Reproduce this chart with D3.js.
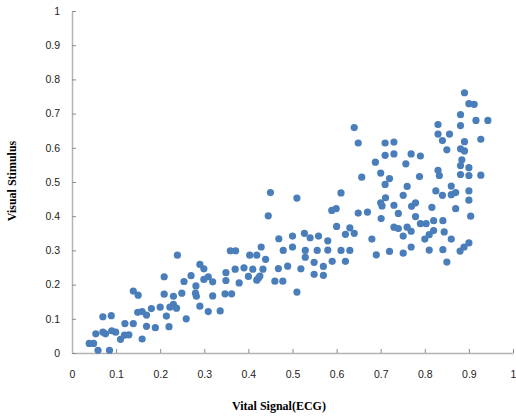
<!DOCTYPE html>
<html lang="en">
  <head>
    <meta charset="utf-8">
    <title>Vital Signal vs Visual Stimulus</title>
    <script src="https://d3js.org/d3.v7.min.js"></script>
    <style>
      body { margin: 0; background: #fff; }
    </style>
  </head>
  <body>
    <script>
      // points: ecg = x, stim = y
      var ecg = [0.039,0.049,0.059,0.085,0.054,0.070,0.089,0.070,0.076,0.090,0.099,0.110,0.119,0.129,0.120,0.139,0.159,0.139,0.150,0.149,
                 0.159,0.169,0.169,0.180,0.189,0.200,0.209,0.209,0.214,0.220,0.222,0.230,0.230,0.237,0.239,0.249,0.254,0.259,0.270,0.281,
                 0.280,0.282,0.290,0.290,0.299,0.299,0.309,0.319,0.319,0.309,0.336,0.445,0.347,0.362,0.349,0.349,0.359,0.371,0.370,0.379,
                 0.390,0.400,0.403,0.410,0.419,0.429,0.439,0.433,0.426,0.419,0.423,0.460,0.478,0.468,0.469,0.479,0.489,0.500,0.500,0.510,
                 0.519,0.527,0.540,0.529,0.529,0.549,0.549,0.559,0.556,0.570,0.570,0.580,0.580,0.590,0.600,0.610,0.620,0.620,0.630,0.640,
                 0.630,0.649,0.670,0.701,0.740,0.779,0.680,0.690,0.720,0.730,0.740,0.751,0.751,0.760,0.769,0.769,0.790,0.803,0.820,0.841,
                 0.820,0.844,0.810,0.800,0.810,0.841,0.860,0.850,0.880,0.889,0.900,0.904,0.640,0.649,0.450,0.510,0.610,0.589,0.599,0.657,
                 0.688,0.700,0.710,0.730,0.710,0.730,0.720,0.710,0.711,0.700,0.703,0.730,0.751,0.760,0.757,0.769,0.790,0.788,0.770,0.779,
                 0.816,0.825,0.840,0.830,0.830,0.840,0.856,0.850,0.830,0.833,0.860,0.860,0.870,0.870,0.881,0.881,0.890,0.900,0.912,0.916,
                 0.943,0.890,0.881,0.890,0.884,0.881,0.900,0.881,0.900,0.927,0.927,0.900,0.900]
      var stim = [0.028,0.028,0.008,0.008,0.056,0.106,0.109,0.061,0.056,0.065,0.061,0.040,0.052,0.053,0.086,0.086,0.041,0.181,0.169,0.119,
                  0.121,0.111,0.078,0.130,0.074,0.134,0.223,0.172,0.108,0.077,0.134,0.166,0.142,0.131,0.286,0.175,0.209,0.100,0.226,0.196,
                  0.175,0.166,0.137,0.259,0.246,0.215,0.223,0.208,0.167,0.121,0.123,0.401,0.173,0.173,0.235,0.212,0.299,0.299,0.245,0.205,
                  0.249,0.224,0.286,0.245,0.286,0.310,0.274,0.245,0.225,0.213,0.219,0.210,0.210,0.247,0.334,0.300,0.254,0.342,0.310,0.178,
                  0.246,0.350,0.337,0.300,0.280,0.265,0.230,0.342,0.300,0.253,0.227,0.328,0.301,0.268,0.370,0.300,0.268,0.347,0.366,0.350,
                  0.300,0.409,0.412,0.393,0.408,0.399,0.333,0.287,0.297,0.368,0.364,0.342,0.292,0.368,0.356,0.310,0.378,0.378,0.387,0.387,
                  0.358,0.354,0.346,0.333,0.301,0.302,0.333,0.266,0.298,0.310,0.322,0.400,0.659,0.614,0.469,0.453,0.468,0.417,0.422,0.514,
                  0.558,0.526,0.614,0.617,0.578,0.582,0.510,0.493,0.454,0.439,0.430,0.432,0.461,0.487,0.553,0.582,0.576,0.516,0.429,0.439,
                  0.426,0.474,0.461,0.668,0.640,0.621,0.640,0.594,0.534,0.519,0.488,0.463,0.469,0.422,0.697,0.665,0.761,0.729,0.727,0.680,
                  0.680,0.618,0.597,0.591,0.565,0.548,0.542,0.522,0.519,0.625,0.520,0.474,0.447]
      var ticks = [0,0.1,0.2,0.3,0.4,0.5,0.6,0.7,0.8,0.9,1]
      var xTitle = "Vital Signal(ECG)"
      var yTitle = "Visual Stimulus"

      var width = 516, height = 416

      var svg = d3.select("body").append("svg")
        .attr("width", width)
        .attr("height", height)

      var x = d3.scaleLinear().domain([0, 1]).range([72, 513])
      var y = d3.scaleLinear().domain([0, 1]).range([353, 11])

      var fmt = function(d){ return d3.format("")(+d.toFixed(1)) }

      // axes, ticks point into the plot
      var gx = svg.append("g")
        .attr("transform", "translate(0," + y(0) + ")")
        .call(d3.axisBottom(x).tickValues(ticks).tickFormat(fmt)
          .tickSizeInner(-4).tickSizeOuter(0).tickPadding(18))
      var gy = svg.append("g")
        .attr("transform", "translate(" + x(0) + ",0)")
        .call(d3.axisLeft(y).tickValues(ticks).tickFormat(fmt)
          .tickSizeInner(-4).tickSizeOuter(0).tickPadding(12))

      ;[gx, gy].forEach(function(g){
        g.select(".domain").attr("stroke", "#b4b4b4").attr("stroke-width", 1.5)
        g.selectAll(".tick line").attr("stroke", "#8c8c8c")
        g.selectAll(".tick text")
          .attr("fill", "#222")
          .style("font-family", "'Liberation Sans', Arial, sans-serif")
          .style("font-size", "10.5px")
      })

      var pts = ecg.map(function(v, i){ return {x: v, y: stim[i]} })

      svg.append("g")
        .selectAll("circle")
        .data(pts)
        .enter()
        .append("circle")
          .attr("cx", function(d){ return x(d.x) })
          .attr("cy", function(d){ return y(d.y) })
          .attr("r", 3.6)
          .attr("fill", "#4a7ebb")

      // axis titles
      svg.append("text")
        .attr("x", 279)
        .attr("y", 410)
        .attr("text-anchor", "middle")
        .style("font-family", "'Liberation Serif', 'Times New Roman', serif")
        .style("font-weight", "bold")
        .style("font-size", "12px")
        .text(xTitle)

      svg.append("text")
        .attr("transform", "translate(16,181) rotate(-90)")
        .attr("text-anchor", "middle")
        .style("font-family", "'Liberation Serif', 'Times New Roman', serif")
        .style("font-weight", "bold")
        .style("font-size", "12px")
        .text(yTitle)
    </script>
  </body>
</html>
